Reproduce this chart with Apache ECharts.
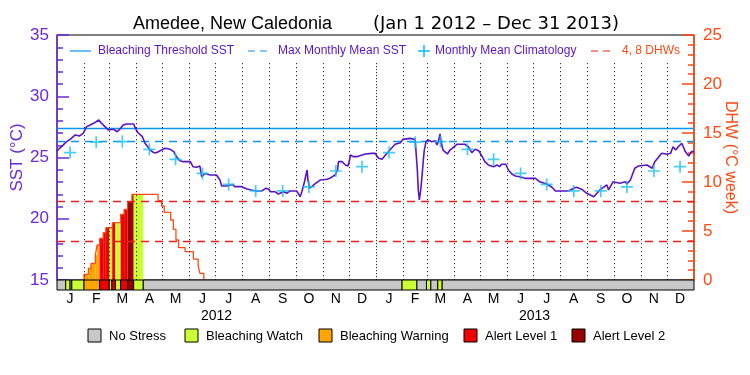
<!DOCTYPE html>
<html><head><meta charset="utf-8">
<script src="https://cdn.jsdelivr.net/npm/echarts@6/dist/echarts.min.js"></script>
<style>html,body{margin:0;padding:0;background:#fff}#c{width:750px;height:375px}</style>
</head><body><div id="c"></div>
<script>
// ---------- data (day 0 = Jan 1 2012, 731 days total) ----------
const monthLetters = ['J','F','M','A','M','J','J','A','S','O','N','D','J','F','M','A','M','J','J','A','S','O','N','D'];
const monthMidDays = [15,45,75,106,136,167,197,228,259,289,320,350,381,411,440,471,501,532,562,593,624,654,685,715];
const monthStartDays = [31,60,91,121,152,182,213,244,274,305,335,366,397,425,456,486,517,547,578,609,639,670,700];
const yearLabels = ['2012','2013'];
const yearMidDays = [183,548];

const sstDays = [0,3,11,15,21,26,30,34,38,42,44,48,51,55,59,61,65,69,72,76,80,88,90,93,98,101,107,111,114,120,124,126,130,134,137,141,145,153,156,160,164,166,170,176,183,187,189,195,201,204,212,218,223,229,235,240,243,245,250,254,260,264,267,275,279,281,284,287,288,290,292,296,302,310,313,319,322,323,327,331,334,337,340,344,350,354,361,365,369,373,376,382,388,394,397,405,411,413,413.5,414.6,415.8,417.4,418.5,420.4,421.5,423.5,426,430,434,436,437.6,439.5,440.7,443,448,451,459,468,472,476,480,484,487,491,495,501,505,508,510,515,518,522,526,531,537,549,554,562,568,572,587,593,596,602,608,616,623,631,633,638,646,652,654,658,663,667,677,683,686,694,700,704,707,710,713,717,721,725,728,731];
const sstVals = [25.53,25.75,26.29,26.48,26.84,26.76,26.97,27.52,27.65,27.79,27.65,28.06,27.8,27.52,27.24,27.1,27.3,27.1,27.3,27.65,27.73,27.73,27.38,27.02,26.7,26.16,25.61,25.39,25.39,25.61,25.75,25.88,25.67,25.48,25.07,24.74,24.66,24.66,24.25,24.2,24.3,23.43,23.7,23.57,23.57,23.16,22.67,22.67,22.8,22.62,22.62,22.43,22.35,22.27,22.27,22.49,22.41,22.21,22.21,22.02,22.21,22.08,22.27,22.27,21.8,22.21,23.02,23.98,23.16,22.49,22.57,22.84,23.16,23.22,23.3,23.57,23.98,24.66,24.66,24.39,24.31,25.2,25.07,25.07,25.2,25.29,25.34,25.34,24.94,24.85,25.12,25.61,26.08,26.21,26.48,26.56,26.48,26.43,23.98,22.35,21.53,22.35,23.16,24.8,25.6,26.29,26.43,26.29,26.37,26.02,26.29,26.92,26.29,25.6,25.29,25.61,26.08,26.08,25.88,25.39,25.67,25.55,25.2,24.66,24.39,24.25,24.39,24.25,24.45,24.45,23.98,23.65,23.49,23.43,23.3,23.3,23.02,22.84,22.57,22.27,22.27,22.49,22.57,22.41,22.08,21.8,22.35,22.76,22.35,23.02,22.9,23.02,22.84,23.16,24.12,24.3,24.39,24.12,24.66,25.34,25.26,25.34,25.88,25.61,25.88,26.16,25.48,25.12,25.48,25.48];

const climDays = [15,45,75,106,136,167,197,228,259,289,320,350,381,411,440,471,501,532,562,593,624,654,685,715];
const climVals = [25.4,26.25,26.3,25.67,24.85,23.7,22.8,22.27,22.27,22.6,23.9,24.25,25.4,26.25,26.3,25.67,24.85,23.7,22.8,22.27,22.27,22.6,23.9,24.25];

const bleachingThreshold = 27.35;
const maxMonthlyMean = 26.35;
const dhwLevels = [4, 8];

const dhwDays = [31,31,36,39,44,46,49,53,56,63.5,73,77,81,86,116,120,123,130.5,133.5,136.5,139.5,147,156.5,162,164,168.5];
const dhwVals = [0,0.58,1.19,1.7,2.55,3.57,4.25,4.83,5.34,5.85,6.7,7.21,7.99,8.74,8.1,7.55,6.9,6.12,5.17,4.08,3.3,2.89,2.14,1.43,0.68,0];

const stressNames = ['No Stress','Bleaching Watch','Bleaching Warning','Alert Level 1','Alert Level 2'];
const stressStart = [0,10,15,17,31,49,60,63,67,73,81,88,99,396,413,424,429,437,442];
const stressEnd   = [10,15,17,31,49,60,63,67,73,81,88,99,396,413,424,429,437,442,731];
const stressLevel = [0,1,0,1,2,3,1,3,1,3,4,1,0,1,0,1,0,1,0];

const titleSite = 'Amedee, New Caledonia';
const titlePeriod = '(Jan 1 2012 \u2013 Dec 31 2013)';

// ---------- styles ----------
const stressColors = ['#c8c8c8','#ccff33','#ffa500','#f00000','#960000'];
const purple = '#5a14c4';
const axisPurple = '#6a2ad8';
const orange = '#ff4a14';
const blue = '#0a96f0';
const cyan = '#18c0f0';
const red = '#ee1c1c';
const FONT = 'Liberation Sans, Arial, sans-serif';

const sstData = sstDays.map((d, i) => [d, sstVals[i]]);
const climData = climDays.map((d, i) => [d, climVals[i]]);
const dhwData = dhwDays.map((d, i) => [d, dhwVals[i]]);
const stressData = stressStart.map((s, i) => [s, stressEnd[i], stressLevel[i]]);
const fillData = [];
for (let i = 0; i < dhwDays.length - 1; i++) {
  const a = dhwDays[i], b = dhwDays[i + 1], v = dhwVals[i];
  if (v <= 0 || b <= a) continue;
  for (let j = 0; j < stressStart.length; j++) {
    const s0 = Math.max(a, stressStart[j]), s1 = Math.min(b, stressEnd[j]);
    if (s1 > s0 && stressLevel[j] > 0) fillData.push([s0, s1, v, stressLevel[j]]);
  }
}

const chart = echarts.init(document.getElementById('c'), null, {renderer: 'canvas'});

const legendY = 51;
const bottomY = 336;
const bottomBoxX = [88, 185, 319, 464, 572];

const graphics = [
  {type:'line', shape:{x1:70,y1:legendY,x2:91,y2:legendY}, style:{stroke:blue, lineWidth:1.2}},
  {type:'text', style:{text:'Bleaching Threshold SST', x:98, y:legendY, fill:purple, font:'12px '+FONT, verticalAlign:'middle', textVerticalAlign:'middle'}},
  {type:'line', shape:{x1:248,y1:legendY,x2:272,y2:legendY}, style:{stroke:blue, lineWidth:1.2, lineDash:[7,5]}},
  {type:'text', style:{text:'Max Monthly Mean SST', x:278, y:legendY, fill:purple, font:'12px '+FONT, verticalAlign:'middle', textVerticalAlign:'middle'}},
  {type:'line', shape:{x1:418,y1:legendY,x2:430,y2:legendY}, style:{stroke:cyan, lineWidth:1.6}},
  {type:'line', shape:{x1:424,y1:legendY-6,x2:424,y2:legendY+6}, style:{stroke:cyan, lineWidth:1.6}},
  {type:'text', style:{text:'Monthly Mean Climatology', x:435, y:legendY, fill:purple, font:'12px '+FONT, verticalAlign:'middle', textVerticalAlign:'middle'}},
  {type:'line', shape:{x1:591,y1:legendY,x2:615,y2:legendY}, style:{stroke:red, lineWidth:1.2, lineDash:[7,5]}},
  {type:'text', style:{text:'4, 8 DHWs', x:622, y:legendY, fill:orange, font:'12px '+FONT, verticalAlign:'middle', textVerticalAlign:'middle'}}
];
stressNames.forEach((name, i) => {
  graphics.push({type:'rect', shape:{x:bottomBoxX[i], y:bottomY-7, width:13, height:13}, style:{fill:stressColors[i], stroke:'#000', lineWidth:1}});
  graphics.push({type:'text', style:{text:name, x:bottomBoxX[i]+21, y:bottomY, fill:'#000', font:'13px '+FONT, verticalAlign:'middle', textVerticalAlign:'middle'}});
});

const monthLines = monthStartDays.map(d => [
  {coord:[d, 32.7], lineStyle:{type: d === 366 ? [1,2] : [1,3], color:'#000', width:1}},
  {coord:[d, 15]}
]);

const option = {
  animation: false,
  backgroundColor: '#fff',
  title: {
    text: '{a|' + titleSite + '}{b|' + titlePeriod + '}',
    left: 128, top: 10,
    textStyle: {
      fontSize: 18, fontWeight: 'normal', color: '#000', fontFamily: FONT,
      rich: {
        a: {fontSize: 18, fontFamily: FONT, color: '#000', width: 240},
        b: {fontSize: 18, fontFamily: 'DejaVu Sans, sans-serif', color: '#000'}
      }
    }
  },
  grid: [
    {left: 57, right: 56, top: 35, height: 245, show: true, borderColor: '#000', borderWidth: 1, backgroundColor: 'transparent', containLabel: false, outerBoundsMode: 'none'},
    {left: 57, right: 56, top: 280, height: 10, containLabel: false, outerBoundsMode: 'none'}
  ],
  xAxis: [
    {type:'value', gridIndex:0, min:0, max:731, show:false},
    {type:'value', gridIndex:1, min:0, max:731, position:'bottom',
      axisLine:{show:false}, axisTick:{show:false}, splitLine:{show:false},
      axisLabel:{customValues: monthMidDays, margin: 2, color:'#000', fontSize:14, fontFamily: FONT,
        formatter: v => { const k = monthMidDays.indexOf(v); return k >= 0 ? monthLetters[k] : ''; }}},
    {type:'value', gridIndex:1, min:0, max:731, position:'bottom', offset: 17,
      axisLine:{show:false}, axisTick:{show:false}, splitLine:{show:false},
      axisLabel:{customValues: yearMidDays, margin: 2, color:'#000', fontSize:14, fontFamily: FONT,
        formatter: v => { const k = yearMidDays.indexOf(v); return k >= 0 ? yearLabels[k] : ''; }}}
  ],
  yAxis: [
    {type:'value', gridIndex:0, position:'left', min:15, max:35, interval:5,
      name:'SST (\u00b0C)', nameLocation:'middle', nameGap:31, nameMoveOverlap:false,
      nameTextStyle:{color:axisPurple, fontSize:17, fontFamily: FONT},
      axisLine:{show:true, lineStyle:{color:axisPurple, width:1.5}},
      axisTick:{show:true, inside:true, length:12, lineStyle:{color:axisPurple, width:1.5}},
      minorTick:{show:true, splitNumber:5, length:6, lineStyle:{color:axisPurple, width:1.5}},
      axisLabel:{color:axisPurple, fontSize:17, margin:8, fontFamily: FONT},
      splitLine:{show:false}},
    {type:'value', gridIndex:0, position:'right', min:0, max:25, interval:5,
      name:'DHW (\u00b0C week)', nameLocation:'middle', nameGap:28, nameRotate:-90, nameMoveOverlap:false,
      nameTextStyle:{color:orange, fontSize:16, fontFamily: FONT},
      axisLine:{show:true, lineStyle:{color:orange, width:1.5}},
      axisTick:{show:true, inside:true, length:12, lineStyle:{color:orange, width:1.5}},
      minorTick:{show:true, splitNumber:5, length:6, lineStyle:{color:orange, width:1.5}},
      axisLabel:{color:orange, fontSize:17, margin:9, fontFamily: FONT},
      splitLine:{show:false}},
    {type:'value', gridIndex:1, min:0, max:1, show:false}
  ],
  graphic: graphics,
  series: [
    {
      name:'DHW fill', type:'custom', xAxisIndex:0, yAxisIndex:1, z:1, silent:true,
      data: fillData,
      renderItem: (params, api) => {
        const p0 = api.coord([api.value(0), api.value(2)]);
        const p1 = api.coord([api.value(1), 0]);
        return {type:'rect', shape:{x:p0[0], y:p0[1], width:p1[0]-p0[0], height:p1[1]-p0[1]},
          style:{fill: stressColors[api.value(3)]}};
      }
    },
    {
      name:'Thresholds', type:'line', xAxisIndex:0, yAxisIndex:0, data:[], z:3, silent:true,
      markLine:{symbol:['none','none'], silent:true, label:{show:false}, animation:false,
        data:[
          {yAxis: bleachingThreshold, lineStyle:{color:blue, width:1.3, type:'solid'}},
          {yAxis: maxMonthlyMean, lineStyle:{color:blue, width:1.3, type:[8,6]}}
        ].concat(monthLines)}
    },
    {
      name:'DHW levels', type:'line', xAxisIndex:0, yAxisIndex:1, data:[], z:3, silent:true,
      markLine:{symbol:['none','none'], silent:true, label:{show:false}, animation:false,
        data: dhwLevels.map(v => ({yAxis: v, lineStyle:{color:red, width:1.3, type:[8,6]}}))}
    },
    {
      name:'DHW', type:'line', xAxisIndex:0, yAxisIndex:1, step:'end', z:4,
      data: dhwData, showSymbol:false, lineStyle:{color:orange, width:1.3}
    },
    {
      name:'SST', type:'line', xAxisIndex:0, yAxisIndex:0, z:5,
      data: sstData, showSymbol:false, lineStyle:{color:purple, width:1.6}
    },
    {
      name:'Monthly Mean Climatology', type:'scatter', xAxisIndex:0, yAxisIndex:0, z:6,
      data: climData, symbol:'path://M0,4.3H10V5.7H0Z M4.3,0H5.7V10H4.3Z', symbolSize:12,
      itemStyle:{color:cyan}
    },
    {
      name:'Stress', type:'custom', xAxisIndex:1, yAxisIndex:2, z:5, silent:true,
      data: stressData,
      renderItem: (params, api) => {
        const p0 = api.coord([api.value(0), 1]);
        const p1 = api.coord([api.value(1), 0]);
        return {type:'rect', shape:{x:p0[0], y:p0[1], width:p1[0]-p0[0], height:p1[1]-p0[1]},
          style:{fill: stressColors[api.value(2)], stroke:'#000', lineWidth:1}};
      }
    }
  ]
};
chart.setOption(option);
</script></body></html>
